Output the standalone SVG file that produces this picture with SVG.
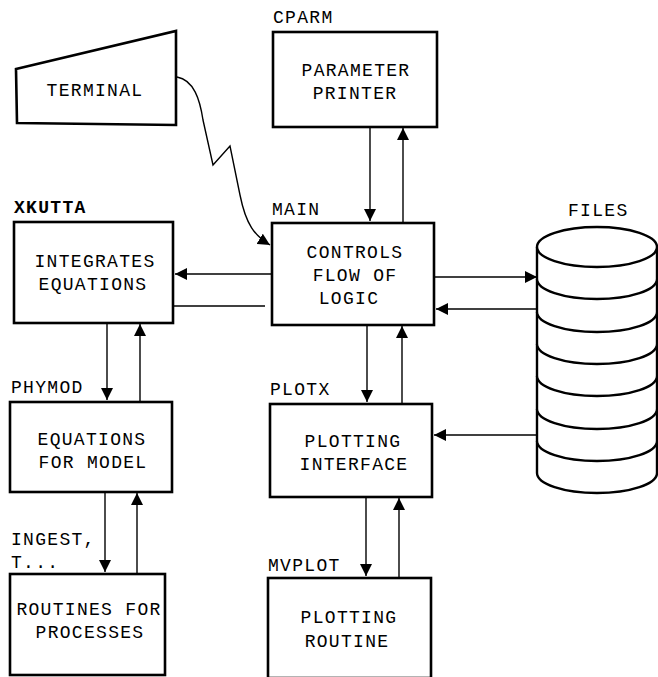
<svg xmlns="http://www.w3.org/2000/svg" width="658" height="677" viewBox="0 0 658 677">
  <style>
    .box { fill: #fff; stroke: #000; stroke-width: 2.6; }
    .txt { font-family: "Liberation Mono", "Courier New", monospace; font-size: 18px; fill: #000; letter-spacing: 1.3px; }
    .mid { text-anchor: middle; }
    .lbl { font-family: "Liberation Mono", "Courier New", monospace; font-size: 18px; fill: #000; letter-spacing: 1.3px; }
    .conn { fill: none; stroke: #000; stroke-width: 1.4; }
    .cyl { fill: #fff; stroke: #000; stroke-width: 2.4; }
  </style>
  <defs>
    <marker id="arrow" viewBox="0 0 12 12" refX="12" refY="6" markerWidth="12" markerHeight="12" markerUnits="userSpaceOnUse" orient="auto">
      <path d="M0,0 L12,6 L0,12 Z" fill="#000"/>
    </marker>
  </defs>
  <rect width="658" height="677" fill="#fff"/>

  <!-- terminal -->
  <g id="terminal">
    <path class="box" d="M16,69 L176,31 L176,125 L17,123 Z"/>
    <text class="txt mid" x="95" y="96">TERMINAL</text>
  </g>

  <!-- CPARM -->
  <g id="cparm">
    <text class="lbl" x="273" y="23">CPARM</text>
    <rect class="box" x="273" y="32" width="164" height="95"/>
    <text class="txt mid" x="356" y="76">PARAMETER</text>
    <text class="txt mid" x="355" y="99">PRINTER</text>
  </g>

  <!-- MAIN -->
  <g id="main">
    <text class="lbl" x="272" y="215">MAIN</text>
    <rect class="box" x="272" y="223" width="162" height="102"/>
    <text class="txt mid" x="355" y="258">CONTROLS</text>
    <text class="txt mid" x="355" y="281">FLOW OF</text>
    <text class="txt mid" x="349" y="304">LOGIC</text>
  </g>

  <!-- XKUTTA -->
  <g id="xkutta">
    <text class="lbl" x="14" y="213" font-weight="bold">XKUTTA</text>
    <rect class="box" x="14" y="222" width="159" height="101"/>
    <text class="txt mid" x="95" y="267">INTEGRATES</text>
    <text class="txt mid" x="93" y="290">EQUATIONS</text>
  </g>

  <!-- FILES -->
  <g id="files">
    <text class="lbl" x="568" y="216">FILES</text>
    <path class="cyl" d="M537,247 L537,473 A60,20 0 0 0 657,473 L657,247"/>
    <ellipse class="cyl" cx="597" cy="247" rx="60" ry="20"/>
    <path class="cyl" fill="none" d="M537,279 A60,20 0 0 0 657,279 M537,312 A60,20 0 0 0 657,312 M537,344 A60,20 0 0 0 657,344 M537,376 A60,20 0 0 0 657,376 M537,409 A60,20 0 0 0 657,409 M537,441 A60,20 0 0 0 657,441"/>
  </g>

  <!-- PHYMOD -->
  <g id="phymod">
    <text class="lbl" x="11" y="393">PHYMOD</text>
    <rect class="box" x="10" y="402" width="162" height="90"/>
    <text class="txt mid" x="92" y="445">EQUATIONS</text>
    <text class="txt mid" x="93" y="468">FOR MODEL</text>
  </g>

  <!-- PLOTX -->
  <g id="plotx">
    <text class="lbl" x="270" y="395">PLOTX</text>
    <rect class="box" x="270" y="404" width="162" height="93"/>
    <text class="txt mid" x="353" y="447">PLOTTING</text>
    <text class="txt mid" x="354" y="470">INTERFACE</text>
  </g>

  <!-- INGEST -->
  <g id="ingest">
    <text class="lbl" x="11" y="545">INGEST,</text>
    <text class="lbl" x="11" y="568">T...</text>
    <rect class="box" x="10" y="574" width="155" height="101"/>
    <text class="txt mid" x="89" y="615">ROUTINES FOR</text>
    <text class="txt mid" x="90" y="638">PROCESSES</text>
  </g>

  <!-- MVPLOT -->
  <g id="mvplot">
    <text class="lbl" x="268" y="571">MVPLOT</text>
    <rect class="box" x="268" y="578" width="163" height="100"/>
    <text class="txt mid" x="349" y="623">PLOTTING</text>
    <text class="txt mid" x="347" y="647">ROUTINE</text>
  </g>

  <!-- connectors -->
  <g id="connectors">
    <path class="conn" d="M177,77 C194,80 200,100 203,120 L213,165 L230,146 L240,195 C246,225 255,236 270,245" marker-end="url(#arrow)"/>
    <line class="conn" x1="370" y1="127" x2="370" y2="221" marker-end="url(#arrow)"/>
    <line class="conn" x1="403" y1="223" x2="403" y2="128" marker-end="url(#arrow)"/>
    <line class="conn" x1="272" y1="274" x2="175" y2="274" marker-end="url(#arrow)"/>
    <line class="conn" x1="173" y1="306" x2="265" y2="306"/>
    <line class="conn" x1="434" y1="277" x2="537" y2="277" marker-end="url(#arrow)"/>
    <line class="conn" x1="537" y1="309" x2="436" y2="309" marker-end="url(#arrow)"/>
    <line class="conn" x1="537" y1="435" x2="434" y2="435" marker-end="url(#arrow)"/>
    <line class="conn" x1="367" y1="325" x2="367" y2="402" marker-end="url(#arrow)"/>
    <line class="conn" x1="402" y1="404" x2="402" y2="326" marker-end="url(#arrow)"/>
    <line class="conn" x1="366" y1="497" x2="366" y2="576" marker-end="url(#arrow)"/>
    <line class="conn" x1="399" y1="578" x2="399" y2="498" marker-end="url(#arrow)"/>
    <line class="conn" x1="107" y1="323" x2="107" y2="400" marker-end="url(#arrow)"/>
    <line class="conn" x1="140" y1="402" x2="140" y2="324" marker-end="url(#arrow)"/>
    <line class="conn" x1="105" y1="492" x2="105" y2="572" marker-end="url(#arrow)"/>
    <line class="conn" x1="137" y1="574" x2="137" y2="493" marker-end="url(#arrow)"/>
  </g>
</svg>
